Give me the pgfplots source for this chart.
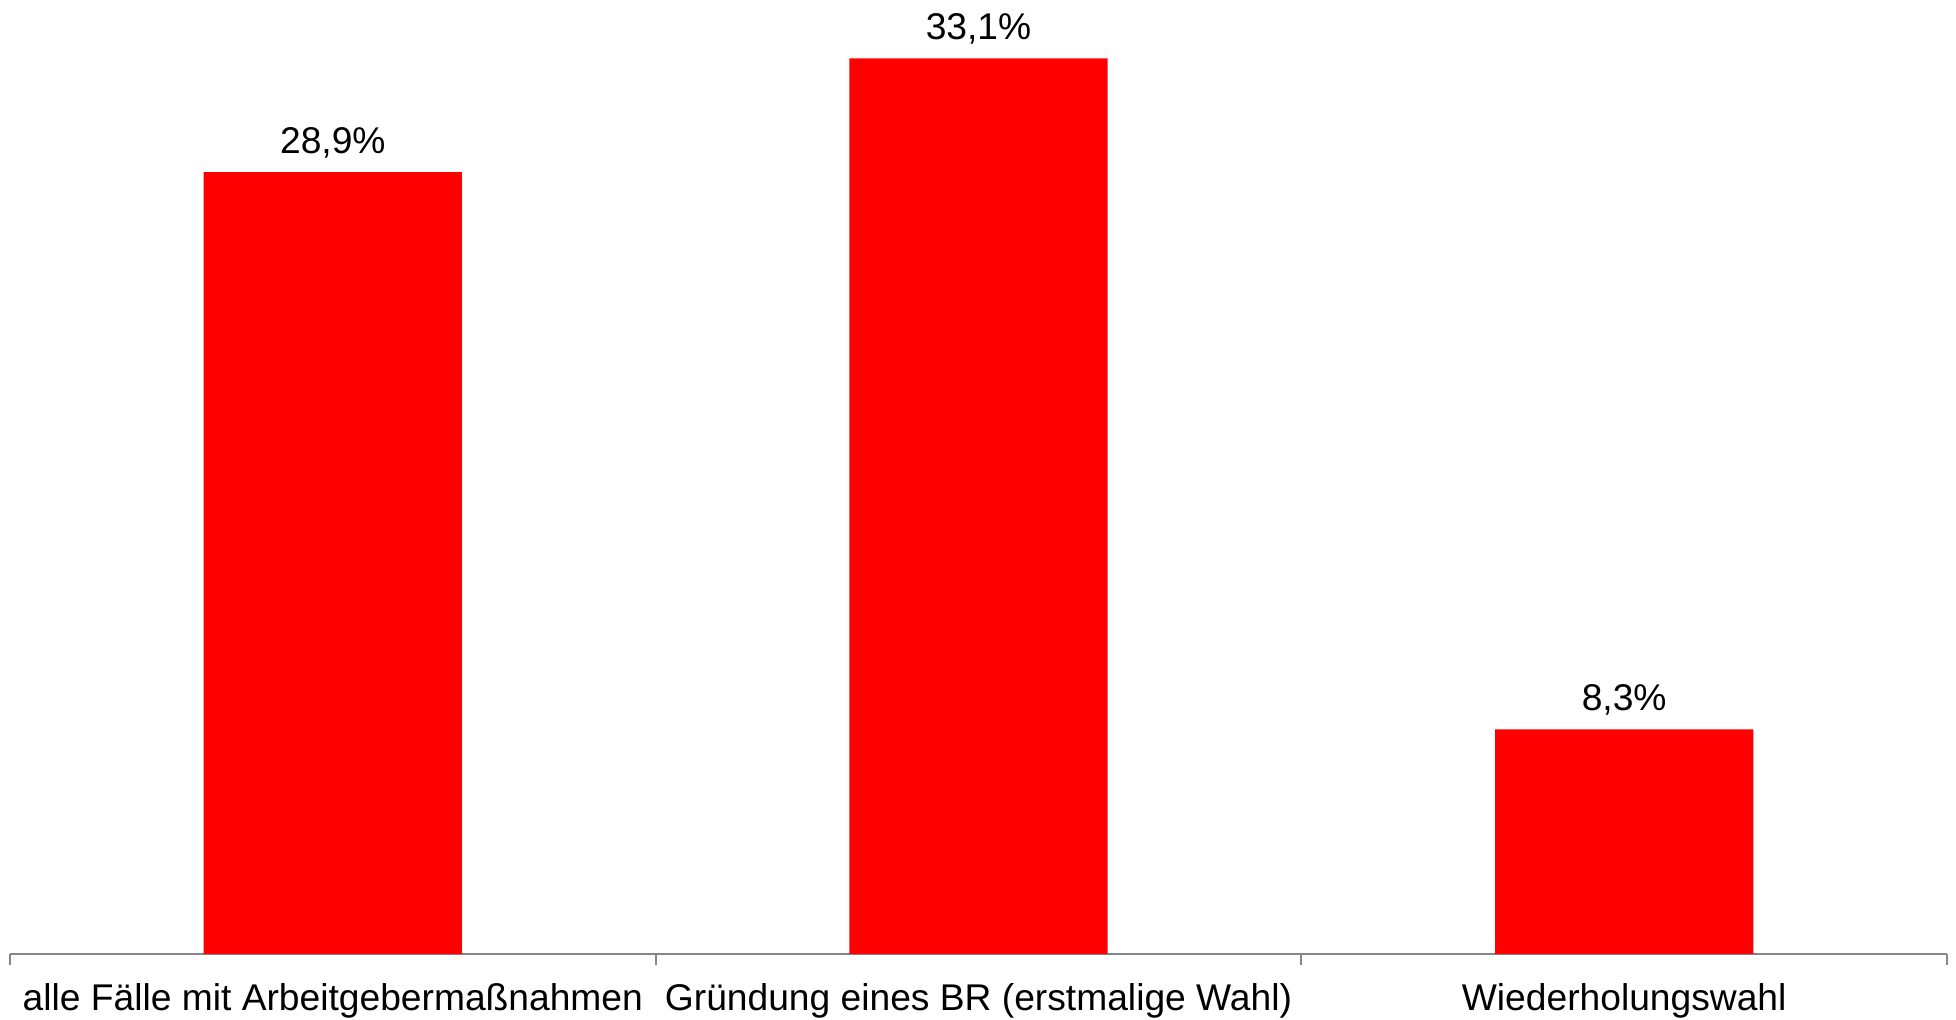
\documentclass[border=0pt]{standalone}
\usepackage{pgfplots}
\pgfplotsset{compat=1.18}
\usepackage{fontspec}
\setmainfont{Liberation Sans}
\definecolor{barred}{RGB}{255,0,0}
\definecolor{axgray}{RGB}{134,134,134}
\begin{document}
\begin{tikzpicture}
\begin{axis}[
  at={(0,0)}, anchor=south west,
  scale only axis,
  width=968.5pt, height=473.5pt,
  xmin=-0.5, xmax=2.5, ymin=0, ymax=35,
  axis x line*=bottom,
  axis y line=none,
  x axis line style={axgray, line width=1pt},
  xtick={0,1,2},
  xticklabels={alle Fälle mit Arbeitgebermaßnahmen, Gründung eines BR (erstmalige Wahl), Wiederholungswahl},
  major x tick style={draw=none},
  minor xtick={-0.5,0.5,1.5,2.5},
  minor x tick style={axgray, line width=1pt},
  minor tick length=5.5pt,
  tick align=outside,
  xticklabel style={font=\fontsize{18.6}{22}\selectfont, text=black, anchor=base, yshift=-24pt},
  typeset ticklabels with strut=false,
  ybar, bar width=0.4,
  /pgf/number format/assume math mode=true,
  nodes near coords={\pgfmathprintnumber[fixed,fixed zerofill,precision=1,use comma,assume math mode=true]{\pgfplotspointmeta}\%},
  nodes near coords style={font=\fontsize{18.6}{22}\selectfont, text=black, anchor=base, yshift=9.5pt, inner sep=0pt},
  clip=false,
]
\addplot[fill=barred, draw=none] coordinates {(0,28.9) (1,33.1) (2,8.3)};
\end{axis}
\pgfresetboundingbox
\path (-5pt,-32.5pt) rectangle (973pt,477pt);
\end{tikzpicture}
\end{document}
